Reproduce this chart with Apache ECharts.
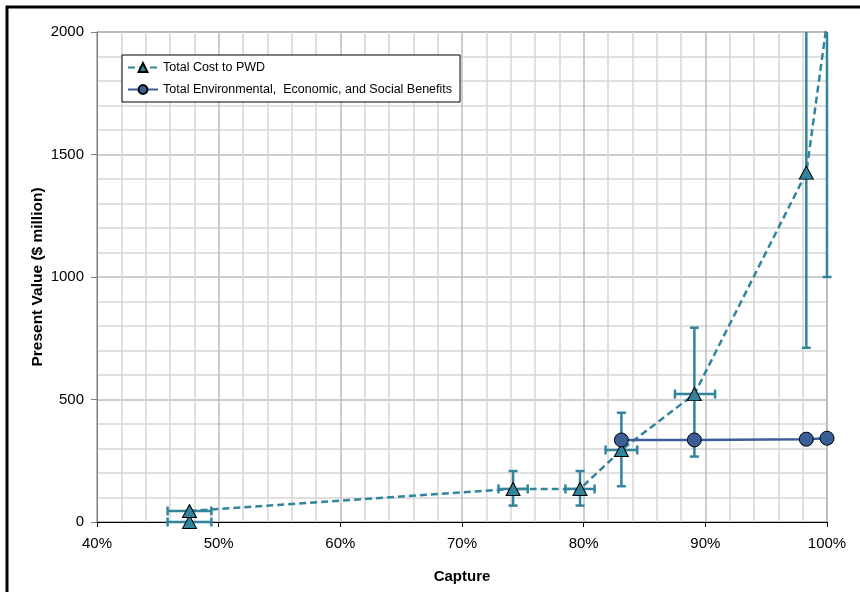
<!DOCTYPE html>
<html>
<head>
<meta charset="utf-8">
<script src="https://cdn.jsdelivr.net/npm/echarts@6/dist/echarts.min.js"></script>
<style>
  html, body { margin: 0; padding: 0; background: #fff; }
  #chart { width: 860px; height: 592px; }
</style>
</head>
<body>
<div id="chart"></div>
<script>
// Capture (%) and present value ($ million) for the cost estimates
const costCapture = [47.6, 47.6, 74.2, 79.7, 83.1, 89.1, 98.3, 100];
const costValue   = [0, 45, 135, 135, 294, 522, 1426, 2040];
// Uncertainty ranges for the cost estimates
const costValueLow    = [0, 45, 67, 67, 146, 267, 711, 1000];
const costValueHigh   = [0, 45, 208, 208, 446, 793, 2140, 3000];
const costCaptureLow  = [45.8, 45.8, 73.0, 78.5, 81.8, 87.5, 98.3, 100];
const costCaptureHigh = [49.4, 49.4, 75.4, 80.9, 84.4, 90.8, 98.3, 100];

// Benefits curve
const benefitCapture = [83.1, 89.1, 98.3, 100];
const benefitValue   = [335, 335, 338, 342];

const xTicks = [40, 50, 60, 70, 80, 90, 100];
const yTicks = [0, 500, 1000, 1500, 2000];

const costColor = '#31849B';
const benefitColor = '#3A5F96';
const FONT = 'Liberation Sans, Arial, sans-serif';

const costPoints = costCapture.map((c, i) => [c, costValue[i]]);
const benefitPoints = benefitCapture.map((c, i) => [c, benefitValue[i]]);
const errorRows = costCapture.map((c, i) => [c, costValue[i], costCaptureLow[i], costCaptureHigh[i], costValueLow[i], costValueHigh[i]]);

function renderErrorBar(params, api) {
  const cs = params.coordSys;
  const top = cs.y, bottom = cs.y + cs.height;
  const cx = api.value(0), cy = api.value(1);
  const xl = api.value(2), xh = api.value(3), yl = api.value(4), yh = api.value(5);
  const center = api.coord([cx, cy]);
  const children = [];
  const style = { stroke: costColor, lineWidth: 2.5 };
  const cap = 4.5;
  const clampY = v => Math.max(top, Math.min(bottom, v));
  // vertical bar
  if (yh > yl) {
    const pLo = api.coord([cx, yl]);
    const pHi = api.coord([cx, yh]);
    children.push({ type: 'line', shape: { x1: center[0], y1: clampY(pHi[1]), x2: center[0], y2: clampY(pLo[1]) }, style: style });
    if (pHi[1] >= top) children.push({ type: 'line', shape: { x1: center[0] - cap, y1: pHi[1], x2: center[0] + cap, y2: pHi[1] }, style: style });
    if (pLo[1] <= bottom) children.push({ type: 'line', shape: { x1: center[0] - cap, y1: pLo[1], x2: center[0] + cap, y2: pLo[1] }, style: style });
  }
  // horizontal bar
  if (xh > xl) {
    const pL = api.coord([xl, cy]);
    const pR = api.coord([xh, cy]);
    children.push({ type: 'line', shape: { x1: pL[0], y1: center[1], x2: pR[0], y2: center[1] }, style: style });
    children.push({ type: 'line', shape: { x1: pL[0], y1: center[1] - cap, x2: pL[0], y2: center[1] + cap }, style: style });
    children.push({ type: 'line', shape: { x1: pR[0], y1: center[1] - cap, x2: pR[0], y2: center[1] + cap }, style: style });
  }
  return { type: 'group', children: children };
}

const chart = echarts.init(document.getElementById('chart'), null, { renderer: 'canvas' });

chart.setOption({
  animation: false,
  backgroundColor: '#fff',
  textStyle: { fontFamily: FONT },
  graphic: [
    { type: 'rect', z: 100, shape: { x: 7, y: 7, width: 870, height: 600 },
      style: { fill: 'none', stroke: '#000', lineWidth: 3 }, silent: true }
  ],
  grid: {
    left: 97, right: 33, top: 32, bottom: 70,
    show: true, borderColor: '#808080', borderWidth: 1, backgroundColor: 'transparent'
  },
  legend: {
    left: 122, top: 55,
    orient: 'vertical',
    backgroundColor: '#fff',
    borderColor: '#000', borderWidth: 1, borderRadius: 0,
    padding: [6, 8, 6, 5],
    itemGap: 9,
    itemWidth: 30, itemHeight: 11,
    textStyle: { fontFamily: FONT, fontSize: 12.5, color: '#000' },
    data: ['Total Cost to PWD', 'Total Environmental,  Economic, and Social Benefits']
  },
  xAxis: {
    type: 'value', min: 40, max: 100, interval: 10,
    name: 'Capture', nameLocation: 'middle', nameGap: 47,
    nameMoveOverlap: false,
    nameTextStyle: { fontFamily: FONT, fontSize: 15, fontWeight: 'bold', color: '#000' },
    axisLine: { show: true, onZero: false, lineStyle: { color: '#000', width: 1 } },
    axisTick: { show: true, inside: false, length: 5, lineStyle: { color: '#000' } },
    axisLabel: { fontFamily: FONT, fontSize: 15, color: '#000', margin: 14,
      formatter: v => xTicks.includes(v) ? v + '%' : '' },
    splitLine: { show: true, lineStyle: { color: '#BDBDBD', width: 1.5 } },
    minorTick: { show: false, splitNumber: 5 },
    minorSplitLine: { show: true, lineStyle: { color: '#D6D6D6', width: 1.5 } }
  },
  yAxis: {
    type: 'value', min: 0, max: 2000, interval: 500,
    name: 'Present Value ($ million)', nameLocation: 'middle', nameGap: 51,
    nameMoveOverlap: false,
    nameTextStyle: { fontFamily: FONT, fontSize: 15.5, fontWeight: 'bold', color: '#000' },
    axisLine: { show: true, lineStyle: { color: '#808080', width: 1 } },
    axisTick: { show: true, inside: false, length: 6, lineStyle: { color: '#808080' } },
    axisLabel: { fontFamily: FONT, fontSize: 15, color: '#000', margin: 13,
      formatter: v => yTicks.includes(v) ? String(v) : '' },
    splitLine: { show: true, lineStyle: { color: '#BDBDBD', width: 1.5 } },
    minorTick: { show: false, splitNumber: 5 },
    minorSplitLine: { show: true, lineStyle: { color: '#D6D6D6', width: 1.5 } }
  },
  series: [
    {
      type: 'custom',
      name: 'cost range',
      renderItem: renderErrorBar,
      data: errorRows,
      encode: { x: 0, y: 1 },
      z: 2,
      silent: true
    },
    {
      type: 'line',
      name: 'Total Cost to PWD',
      data: costPoints,
      clip: true,
      z: 3,
      symbol: 'triangle',
      symbolSize: [14, 13],
      lineStyle: { color: costColor, width: 2.5, type: [7, 4] },
      itemStyle: { color: costColor, borderColor: '#000', borderWidth: 1 }
    },
    {
      type: 'line',
      name: 'Total Environmental,  Economic, and Social Benefits',
      data: benefitPoints,
      clip: true,
      z: 4,
      symbol: 'circle',
      symbolSize: 14,
      lineStyle: { color: benefitColor, width: 2.5 },
      itemStyle: { color: benefitColor, borderColor: '#000', borderWidth: 1 }
    }
  ]
});
</script>
</body>
</html>
